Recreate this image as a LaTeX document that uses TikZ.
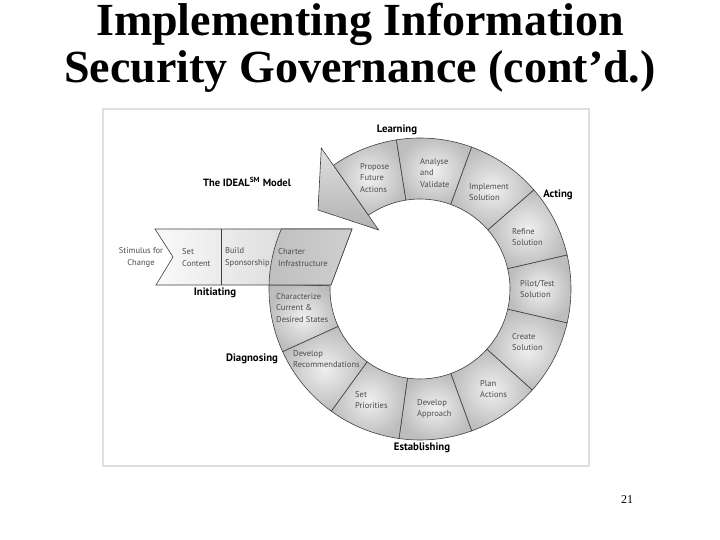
\documentclass[tikz,border=0pt]{standalone}
\usepackage{fontspec}
\setmainfont{Liberation Serif}
\newfontfamily\diag{PT Sans}
\begin{document}
\begin{tikzpicture}[x=1pt,y=1pt]
\useasboundingbox (0,0) rectangle (720,540);
\tikzset{
  seg/.style={draw=black!75, line width=0.6pt, inner color=gray!12, outer color=gray!52},
  segtxt/.style={font=\diag\fontsize{8.5}{11.5}\selectfont, text=black!70, align=left, inner sep=0pt, anchor=west},
  stage/.style={font=\diag\bfseries\fontsize{10.8}{12}\selectfont, inner sep=0pt},
  slidetitle/.style={font=\bfseries\fontsize{46}{50}\selectfont, anchor=base, inner sep=0pt},
}
\newcommand\ringseg[2]{\path[seg, shift={(420,251)}] (#1:90) -- (#1:151) arc[start angle=#1, end angle=#2, radius=151] -- (#2:90) arc[start angle=#2, end angle=#1, radius=90] -- cycle;}

% frame
\draw[gray!25, line width=1.2pt] (103,74) rectangle (589,431);

% ring segments
\ringseg{99}{125}
\ringseg{70}{99}
\ringseg{41}{70}
\ringseg{13}{41}
\ringseg{-13}{13}
\ringseg{-42}{-13}
\ringseg{-70}{-42}
\ringseg{-98}{-70}
\ringseg{-126}{-98}
\ringseg{-155.5}{-126}
\ringseg{178}{204.5}

% arrowhead
\path[draw=black!75, line width=0.6pt, shading angle=60, top color=gray!25, bottom color=gray!60]
  (321.3,391.9) -- (318,330) -- (378.7,310) -- cycle;

% bar
\path[draw=black!75, line width=0.6pt, left color=gray!4, right color=gray!38]
  (155,311) -- (173,283) -- (156,255) -- (331,255) -- (352,311) -- cycle;
\path[draw=black!75, line width=0.6pt, left color=gray!50, right color=gray!38]
  (281.4,311) arc[start angle=156.6, end angle=178.5, radius=151] -- (331,255) -- (352,311) -- cycle;
\draw[black!75, line width=0.6pt] (221,311) -- (221,255);

% segment texts
\node[segtxt] (propose) at (360,362) {Propose\\Future\\Actions};
\node[segtxt] (analyse) at (420,367) {Analyse\\and\\Validate};
\node[segtxt] (implement) at (469,348) {Implement\\Solution};
\node[segtxt] (refine) at (512,303) {Refine\\Solution};
\node[segtxt] (pilot) at (520,251) {Pilot/Test\\Solution};
\node[segtxt] (create) at (512,198) {Create\\Solution};
\node[segtxt] (plan) at (480,151) {Plan\\Actions};
\node[segtxt] (approach) at (417,131) {Develop\\Approach};
\node[segtxt] (priorities) at (355,140) {Set\\Priorities};
\node[segtxt] (recommend) at (293,181) {Develop\\Recommendations};
\node[segtxt] (characterize) at (276,232) {Characterize\\Current \&\\Desired States};
\node[segtxt] (charter) at (278,282.5) {Charter\\Infrastructure};
\node[segtxt] (sponsor) at (225,282.5) {Build\\Sponsorship};
\node[segtxt] (context) at (182,282.5) {Set\\Content};
\node[segtxt, anchor=center, align=center] (stimulus) at (141,282.5) {Stimulus for\\Change};

% stage labels
\node[stage] (learning) at (397,410) {Learning};
\node[stage] (acting) at (558,345) {Acting};
\node[stage] (establishing) at (422,92) {Establishing};
\node[stage] (diagnosing) at (252,181) {Diagnosing};
\node[stage] (initiating) at (215,247) {Initiating};
\node[font=\diag\bfseries\fontsize{10.5}{12}\selectfont, inner sep=0pt] (model) at (247,358) {The IDEAL\textsuperscript{SM} Model};

% slide title
\node[slidetitle] (title1) at (360,504) {Implementing Information};
\node[slidetitle] (title2) at (360,457) {Security Governance (cont’d.)};
\node[font=\fontsize{12}{14}\selectfont, inner sep=0pt] (pagenum) at (627,40) {21};
\end{tikzpicture}
\end{document}
